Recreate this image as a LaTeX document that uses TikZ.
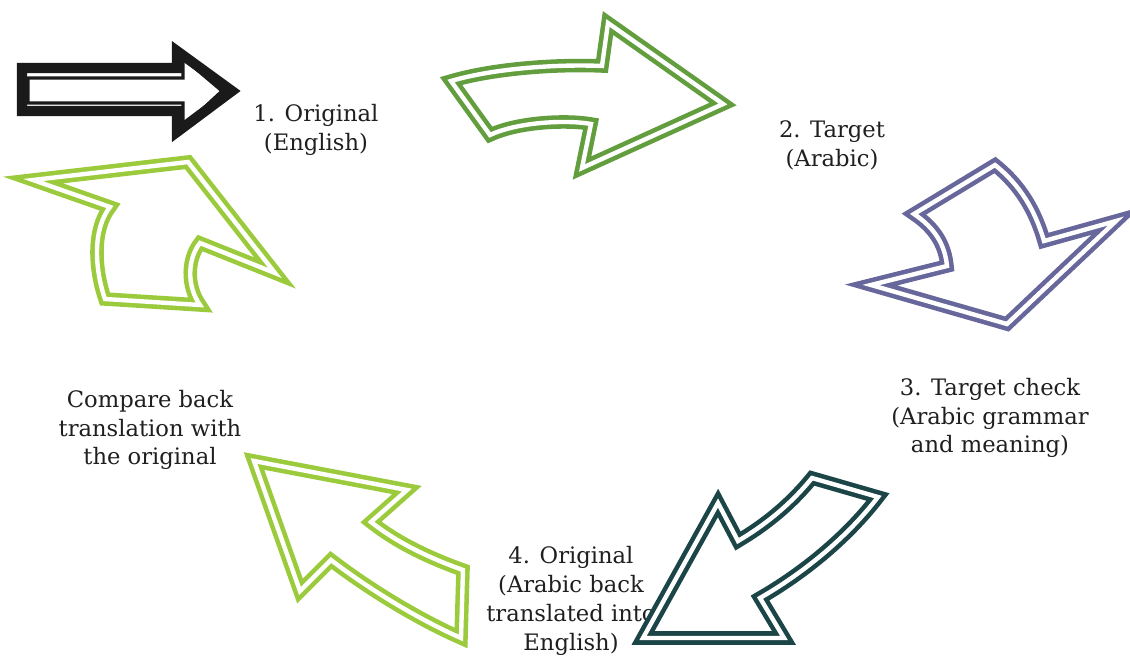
\documentclass[tikz,border=0pt]{standalone}
\usepackage{fontspec}
\setmainfont{DejaVu Serif}
\definecolor{blk}{HTML}{1A1A1A}
\definecolor{greenB}{HTML}{629D3E}
\definecolor{purp}{HTML}{67679C}
\definecolor{tealD}{HTML}{1C4548}
\definecolor{lime}{HTML}{9BCB3C}
\definecolor{txt}{HTML}{1F1F1F}
\begin{document}
\begin{tikzpicture}[x=0.02cm,y=-0.02cm,
  dbl/.style={line width=2.6pt, double=white, double distance=2.5pt, line join=miter, miter limit=20},
  lbl/.style={align=center, font=\fontsize{12.9pt}{16.4pt}\selectfont, text=txt, inner sep=0pt}]
\useasboundingbox (0,0) rectangle (1130,657);

% step labels
\node[lbl] (t1) at (316,130) {1. Original\\(English)};
\node[lbl] (t2) at (832,145) {2. Target\\(Arabic)};
\node[lbl] (t3) at (990,418) {3. Target check\\(Arabic grammar\\and meaning)};
\node[lbl] (t4) at (571,601) {4. Original\\(Arabic back\\translated into\\English)};
\node[lbl] (t5) at (150,430) {Compare back\\translation with\\the original};

% straight start arrow: thick outer outline, thin inner outline
\draw[line width=5.8pt, draw=blk, line join=miter, miter limit=20]
  (22,68) -- (177,68) -- (177,51) -- (232,91) -- (177,132) -- (177,111) -- (22,111) -- cycle;
\draw[line width=1.8pt, draw=blk, line join=miter, miter limit=20]
  (28,78) -- (183,78) -- (183,58) -- (222,91) -- (183,127) -- (183,103) -- (28,103) -- cycle;

% curved arrow towards the target
\draw[dbl, draw=greenB]
  (451,81) .. controls (495,68) and (560,64) .. (602,66) -- (608,23) -- (723,104)
  -- (582,168) -- (591,124) .. controls (570,120) and (520,121) .. (490,135) -- cycle;

% arrow down to the target check
\draw[dbl, draw=purp]
  (914,214) .. controls (935,228) and (945,245) .. (947,266) -- (871,285) -- (1007,324)
  -- (1116,221) -- (1044,241) .. controls (1035,210) and (1020,185) .. (995,165) -- cycle;

% arrow towards the back translation
\draw[dbl, draw=tealD]
  (878,497) .. controls (845,540) and (800,575) .. (760,598) -- (784,638) -- (643,638)
  -- (718,503) -- (738,541) .. controls (765,525) and (790,505) .. (812,478) -- cycle;

% arrow towards the comparison
\draw[dbl, draw=lime]
  (254,461) -- (407,490) -- (371,522) .. controls (400,545) and (435,560) .. (463,570)
  -- (461,638) .. controls (420,620) and (370,590) .. (331,560) -- (300,591) -- cycle;

% arrow back up to the original
\draw[dbl, draw=lime]
  (33,180) -- (188,162) -- (275,273) -- (200,243) .. controls (188,258) and (186,285) .. (200,305)
  -- (105,299) .. controls (95,270) and (92,230) .. (110,207) -- cycle;
\end{tikzpicture}
\end{document}
